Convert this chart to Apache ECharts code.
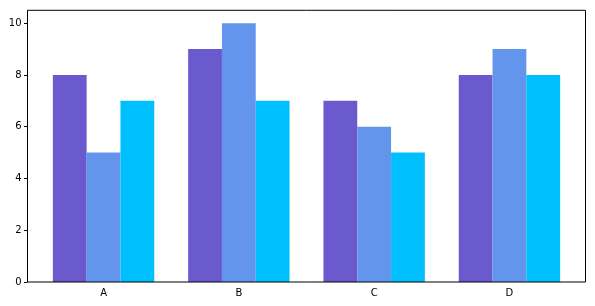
<!DOCTYPE html>
<html>
<head>
<meta charset="utf-8">
<script src="https://cdn.jsdelivr.net/npm/echarts@6/dist/echarts.min.js"></script>
<style>
  html, body { margin: 0; padding: 0; background: #fff; }
  #chart { width: 595px; height: 306px; }
</style>
</head>
<body>
<div id="chart"></div>
<script>
const categories = ['A', 'B', 'C', 'D']
const seriesOne = [8, 9, 7, 8]
const seriesTwo = [5, 10, 6, 9]
const seriesThree = [7, 7, 5, 8]
const yTicks = [0, 2, 4, 6, 8, 10]

const colors = ['#6a5acd', '#6495ed', '#00bfff']
const font = { fontFamily: 'DejaVu Sans', fontSize: 10, color: '#000' }

const chart = echarts.init(document.getElementById('chart'))

const bar = (data, i) => ({
  type: 'bar',
  data,
  xAxisIndex: 1,
  yAxisIndex: 1,
  barWidth: 33.8,
  barGap: '0%',
  itemStyle: { color: colors[i] },
  animation: false
})

chart.setOption({
  animation: false,
  grid: [
    // outer frame
    { left: 27.5, right: 9.5, top: 10.3, bottom: 24, show: true, borderColor: '#000', borderWidth: 1, z: 10 },
    // inner area where bars live (matplotlib margins)
    { left: 35.9, right: 17.9, top: 10.3, bottom: 24 }
  ],
  xAxis: [
    { gridIndex: 0, type: 'value', min: 0, max: 1, show: false },
    {
      gridIndex: 1,
      type: 'category',
      data: categories,
      axisLine: { show: false },
      axisTick: { alignWithLabel: true, length: 3.5, lineStyle: { color: '#000' } },
      axisLabel: { ...font, margin: 6 }
    }
  ],
  yAxis: [
    {
      gridIndex: 0,
      type: 'value',
      min: 0,
      max: 10.5,
      axisLine: { show: false },
      splitLine: { show: false },
      axisTick: { show: true, length: 3.5, lineStyle: { color: '#000' }, customValues: yTicks },
      axisLabel: { ...font, margin: 6, customValues: yTicks }
    },
    { gridIndex: 1, type: 'value', min: 0, max: 10.5, show: false }
  ],
  series: [
    bar(seriesOne, 0),
    bar(seriesTwo, 1),
    bar(seriesThree, 2)
  ]
})
</script>
</body>
</html>
